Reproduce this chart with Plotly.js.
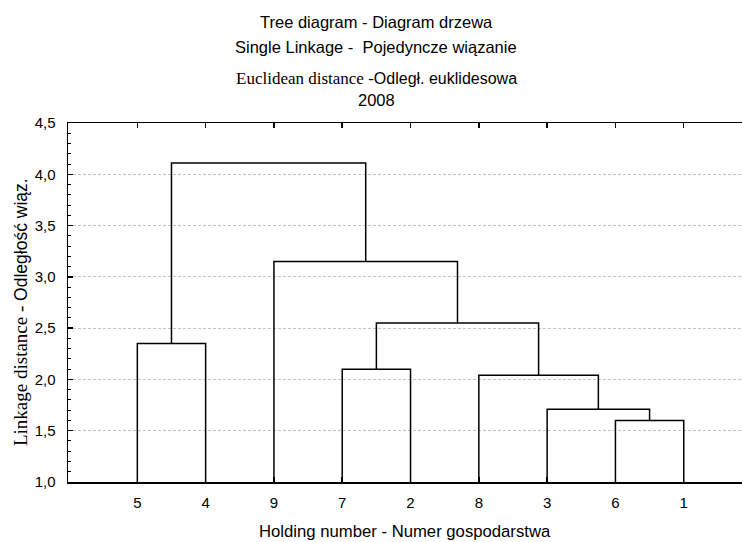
<!DOCTYPE html>
<html>
<head>
<meta charset="utf-8">
<script src="https://cdn.plot.ly/plotly-3.0.1.min.js"></script>
<style>
html,body{margin:0;padding:0;background:#fff;overflow:hidden;}
#chart{width:742px;height:542px;}
</style>
</head>
<body>
<div id="chart"></div>
<script>
// Leaves in display order (holding numbers)
const leafLabels = ['5', '4', '9', '7', '2', '8', '3', '6', '1'];
// Linkage: ids 0..8 are leaves (display order), 9+ are merged clusters in order
const mergeA = [7, 6, 5, 3, 0, 12, 2, 13];
const mergeB = [8, 9, 10, 4, 1, 11, 14, 15];
const mergeHeight = [1.60, 1.71, 2.04, 2.10, 2.35, 2.55, 3.15, 4.11];
const leafHeight = 1.0;
const yTicks = [1.0, 1.5, 2.0, 2.5, 3.0, 3.5, 4.0, 4.5];

const nodeX = leafLabels.map((_, i) => i + 1);
const nodeY = leafLabels.map(() => leafHeight);
const xs = [], ys = [];
for (let k = 0; k < mergeA.length; k++) {
  const a = mergeA[k], b = mergeB[k], h = mergeHeight[k];
  xs.push(nodeX[a], nodeX[a], nodeX[b], nodeX[b], null);
  ys.push(nodeY[a], h, h, nodeY[b], null);
  nodeX.push((nodeX[a] + nodeX[b]) / 2);
  nodeY.push(h);
}

const trace = {
  x: xs, y: ys, type: 'scatter', mode: 'lines',
  line: {color: '#000', width: 1.5},
  connectgaps: false, hoverinfo: 'skip', showlegend: false
};

const sans = 'Liberation Sans, Arial, sans-serif';

const ann = (text, x, y, size) => ({
  text: text, xref: 'paper', yref: 'paper', x: x, y: y,
  xanchor: 'center', yanchor: 'middle', showarrow: false,
  font: {family: sans, size: size || 16.5, color: '#000'}
});

const layout = {
  width: 742, height: 542,
  margin: {l: 68, r: 0, t: 123, b: 60},
  paper_bgcolor: '#fff', plot_bgcolor: '#fff',
  separators: ', ',
  font: {family: sans, size: 15, color: '#000'},
  xaxis: {
    range: [-0.015, 9.853],
    tickvals: leafLabels.map((_, i) => i + 1),
    ticktext: leafLabels,
    ticks: 'inside', ticklen: 5, tickwidth: 1.5, tickcolor: '#000',
    showline: true, linecolor: '#000', linewidth: 1.5, mirror: 'ticks',
    showgrid: false, zeroline: false,
    ticklabelstandoff: 6,
    tickfont: {family: sans, size: 15, color: '#000'}
  },
  yaxis: {
    range: [1, 4.5],
    tickvals: yTicks, tickformat: '.1f',
    ticks: 'inside', ticklen: 5, tickwidth: 1.5, tickcolor: '#000',
    showline: true, linecolor: '#000', linewidth: 1.5, mirror: false,
    showgrid: true, gridcolor: '#c4c4c4', gridwidth: 1, griddash: '3px,2px',
    zeroline: false,
    minor: {dtick: 0.1, ticks: 'inside', ticklen: 3, tickwidth: 1, tickcolor: '#000', showgrid: false},
    ticklabelstandoff: 8,
    tickfont: {family: sans, size: 15, color: '#000'}
  },
  annotations: [
    ann('Tree diagram - Diagram drzewa', 0.457, 1.2813),
    ann('Single Linkage -\u00a0\u00a0Pojedyncze wiązanie', 0.457, 1.2117),
    ann('<span style="font-family:Liberation Serif, Times New Roman, serif;font-size:17px">Euclidean distance -</span>Odległ. euklidesowa', 0.457, 1.1253, 16),
    ann('2008', 0.457, 1.0641),
    ann('Holding number - Numer gospodarstwa', 0.5, -0.139, 16.7),
    Object.assign(ann('<span style="font-family:Liberation Serif, Times New Roman, serif;font-size:19px">Linkage distance - </span>Odległość wiąz.', -0.0712, 0.4735, 17.5), {textangle: -90})
  ]
};

Plotly.newPlot('chart', [trace], layout, {staticPlot: true, displayModeBar: false});
</script>
</body>
</html>
